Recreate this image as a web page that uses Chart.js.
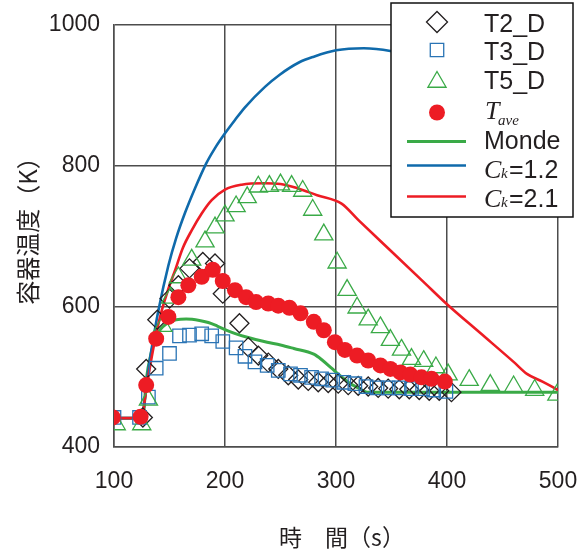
<!DOCTYPE html>
<html>
<head>
<meta charset="utf-8">
<script src="https://cdn.jsdelivr.net/npm/chart.js@4.4.1/dist/chart.umd.min.js"></script>
<style>
  html, body { margin: 0; padding: 0; background: #fff; }
  #wrap { width: 587px; height: 551px; }
</style>
</head>
<body>
<div id="wrap"><canvas id="chart" width="587" height="551"></canvas></div>
<script>
var t2Time = [126, 129, 139, 150, 158, 168, 180, 191, 198, 213, 221, 230, 239, 248, 257, 266, 275, 284, 293, 302, 311, 320, 329, 338, 347, 357, 366, 375, 384, 393, 404];
var t2Temp = [442, 511, 581, 611, 630, 654, 663, 661, 618, 576, 542, 530, 520, 511, 502, 496, 494, 492, 491, 490, 488, 487, 486, 484, 483, 482, 482, 481, 480, 480, 478];

var t3Time = [100, 123, 131, 138, 150, 159, 168, 179, 188, 198, 210, 218, 227, 238, 248, 259, 268, 278, 287, 297, 307, 317, 327, 337, 347, 357, 368, 378, 388, 399];
var t3Temp = [442, 442, 471, 512, 533, 558, 559, 561, 558, 550, 541, 529, 521, 516, 509, 504, 502, 499, 497, 495, 492, 490, 486, 484, 484, 484, 483, 483, 481, 479];

var t5Time = [102, 125, 131, 144, 151, 158, 170, 182, 191, 200, 210, 220, 230, 240, 250, 260, 270, 279, 289, 301, 310, 319, 329, 340, 349, 359, 368, 379, 390, 401, 420, 439, 460, 479, 499];
var t5Temp = [432, 432, 467, 572, 612, 641, 666, 692, 712, 729, 742, 755, 770, 771, 773, 771, 764, 737, 702, 662, 623, 598, 581, 570, 552, 538, 525, 522, 513, 503, 495, 488, 486, 481, 474];

var aveTime = [99, 124, 129, 138, 149, 158, 167, 179, 189, 198, 209, 219, 228, 239, 248, 258, 268, 280, 289, 299, 308, 319, 329, 340, 349, 358, 367, 377, 386, 398];
var aveTemp = [442, 443, 488, 554, 585, 613, 630, 642, 652, 636, 623, 613, 606, 604, 601, 598, 590, 578, 566, 549, 538, 530, 523, 516, 511, 506, 503, 499, 497, 493];

var mondeTime = [100, 126, 129, 134, 138, 144, 150, 156, 165, 177, 185, 193, 200, 208, 220, 238, 250, 262, 280, 288, 296, 304, 312, 320, 328, 360, 420, 500];
var mondeTemp = [441, 441, 495, 537, 558, 571, 578, 581, 582, 580, 577, 572, 567, 562, 556, 549, 545, 540, 532, 523, 512, 501, 491, 484, 478, 478, 478, 478];

var ck12Time = [100, 125, 128, 131, 135, 140, 149, 156, 164, 173, 183, 191, 200, 209, 218, 236, 249, 267, 280, 300, 325, 349, 375];
var ck12Temp = [441, 441, 470, 510, 550, 594, 658, 697, 733, 768, 803, 825, 846, 865, 883, 912, 929, 947, 955, 964, 967, 963, 952];

var ck21Time = [100, 125, 128, 132, 136, 140, 143, 149, 155, 162, 170, 179, 188, 200, 215, 235, 250, 265, 283, 305, 320, 350, 380, 400, 430, 460, 472, 486, 500];
var ck21Temp = [441, 441, 470, 510, 545, 575, 594, 625, 651, 683, 708, 732, 751, 766, 773, 775, 774, 768, 758, 746, 723, 678, 633, 603, 562, 521, 504, 493, 481];

var xTicks = [100, 200, 300, 400, 500];
var yTicks = [400, 600, 800, 1000];

var ink = "#231f20";
var gridColor = "#4d4d4d";
var cGreen = "#3aaa47";
var cBlue = "#0f6aab";
var cRed = "#ed1c24";
var cSquare = "#2a74b5";

function pts(xs, ys) {
    var out = [];
    for (var i = 0; i < xs.length; i++) {
        out.push({ x: xs[i], y: ys[i] });
    }
    return out;
}

function lineSet(label, xs, ys, color, width, order) {
    return {
        label: label,
        data: pts(xs, ys),
        showLine: true,
        borderColor: color,
        borderWidth: width,
        pointRadius: 0,
        fill: false,
        cubicInterpolationMode: 'monotone',
        order: order
    };
}

function markSet(label, xs, ys, style, radius, color, filled, order) {
    return {
        label: label,
        data: pts(xs, ys),
        showLine: false,
        pointStyle: style,
        pointRadius: radius,
        pointBorderColor: color,
        pointBorderWidth: filled ? 0 : 1.3,
        pointBackgroundColor: filled ? color : 'rgba(0,0,0,0)',
        order: order
    };
}

// legend + axis titles, drawn on top
var decor = {
    id: 'decor',
    afterDraw: function(chart) {
        var ctx = chart.ctx;
        ctx.save();

        // axis titles
        ctx.fillStyle = ink;
        ctx.textAlign = 'center';
        ctx.textBaseline = 'middle';
        ctx.font = '23px "Noto Sans CJK JP"';
        ctx.fillText('時　間（s）', 342, 537);
        ctx.save();
        ctx.translate(28, 225);
        ctx.rotate(-Math.PI / 2);
        ctx.font = '24px "Noto Sans CJK JP"';
        ctx.fillText('容器温度（K）', 0, 0);
        ctx.restore();

        // legend box
        var bx = 391, by = 3, bw = 182, bh = 214;
        ctx.fillStyle = '#fff';
        ctx.fillRect(bx, by, bw, bh);
        ctx.strokeStyle = '#111';
        ctx.lineWidth = 1.5;
        ctx.strokeRect(bx, by, bw, bh);

        var sx = 437, tx = 484;
        var draw = Chart.helpers.drawPoint;
        ctx.fillStyle = 'rgba(0,0,0,0)';
        ctx.lineWidth = 1.3;
        ctx.strokeStyle = ink;
        draw(ctx, { pointStyle: 'rectRot', radius: 10.5, borderWidth: 1.3, rotation: 0 }, sx, 22);
        ctx.strokeStyle = cSquare;
        draw(ctx, { pointStyle: 'rect', radius: 9.5, borderWidth: 1.3, rotation: 0 }, sx, 50);
        ctx.strokeStyle = cGreen;
        draw(ctx, { pointStyle: 'triangle', radius: 10.5, borderWidth: 1.3, rotation: 0 }, sx, 82);
        ctx.fillStyle = cRed;
        ctx.beginPath();
        ctx.arc(sx, 112.5, 8, 0, Math.PI * 2);
        ctx.fill();

        var lines = [[cGreen, 3, 141.5], [cBlue, 2.6, 165.5], [cRed, 2.6, 196.5]];
        for (var i = 0; i < lines.length; i++) {
            ctx.strokeStyle = lines[i][0];
            ctx.lineWidth = lines[i][1];
            ctx.beginPath();
            ctx.moveTo(407, lines[i][2]);
            ctx.lineTo(466, lines[i][2]);
            ctx.stroke();
        }

        ctx.fillStyle = ink;
        ctx.textAlign = 'left';
        ctx.textBaseline = 'alphabetic';
        ctx.font = '25px "Liberation Sans"';
        ctx.fillText('T2_D', tx, 31.5);
        ctx.fillText('T3_D', tx, 60);
        ctx.fillText('T5_D', tx, 88.5);
        ctx.fillText('Monde', tx, 148.5);

        ctx.font = 'italic 26px "Liberation Serif"';
        ctx.fillText('T', tx + 1, 119);
        ctx.font = 'italic 15px "Liberation Serif"';
        ctx.fillText('ave', tx + 14, 125);

        var cks = [['=1.2', 178], ['=2.1', 207]];
        for (var j = 0; j < cks.length; j++) {
            var base = cks[j][1];
            ctx.font = 'italic 26px "Liberation Serif"';
            ctx.fillText('C', tx, base);
            ctx.font = 'italic 15px "Liberation Serif"';
            ctx.fillText('k', tx + 17, base);
            ctx.font = '25px "Liberation Sans"';
            ctx.fillText(cks[j][0], tx + 25, base);
        }
        ctx.restore();
    }
};

new Chart(document.getElementById('chart'), {
    type: 'scatter',
    data: {
        datasets: [
            markSet('Tave', aveTime, aveTemp, 'circle', 8, cRed, true, 1),
            markSet('T5_D', t5Time, t5Temp, 'triangle', 10.5, cGreen, false, 2),
            markSet('T3_D', t3Time, t3Temp, 'rect', 9.5, cSquare, false, 3),
            markSet('T2_D', t2Time, t2Temp, 'rectRot', 9.5, ink, false, 4),
            lineSet('Ck=2.1', ck21Time, ck21Temp, cRed, 2.6, 5),
            lineSet('Ck=1.2', ck12Time, ck12Temp, cBlue, 2.6, 6),
            lineSet('Monde', mondeTime, mondeTemp, cGreen, 3, 7)
        ]
    },
    options: {
        responsive: false,
        animation: false,
        layout: { padding: { top: 25, right: 29, left: 0, bottom: 0 } },
        plugins: {
            legend: { display: false },
            tooltip: { enabled: false }
        },
        scales: {
            x: {
                type: 'linear',
                min: 100,
                max: 500,
                afterFit: function(s) { s.height = 104; s.paddingRight = 0; s.paddingLeft = 0; },
                afterBuildTicks: function(s) { s.ticks = xTicks.map(function(v) { return { value: v }; }); },
                grid: { color: gridColor, lineWidth: 1.5, drawTicks: false },
                border: { color: gridColor, width: 1.5 },
                ticks: {
                    color: ink, padding: 21,
                    font: { family: 'Liberation Sans', size: 23 },
                    callback: function(v) { return String(v); }
                }
            },
            y: {
                type: 'linear',
                min: 400,
                max: 1000,
                afterFit: function(s) { s.width = 114; s.paddingTop = 0; s.paddingBottom = 0; },
                afterBuildTicks: function(s) { s.ticks = yTicks.map(function(v) { return { value: v }; }); },
                grid: { color: gridColor, lineWidth: 1.5, drawTicks: false },
                border: { color: gridColor, width: 1.5 },
                ticks: {
                    color: ink, padding: 14,
                    font: { family: 'Liberation Sans', size: 23 },
                    callback: function(v) { return String(v); }
                }
            }
        }
    },
    plugins: [decor]
});
</script>
</body>
</html>
